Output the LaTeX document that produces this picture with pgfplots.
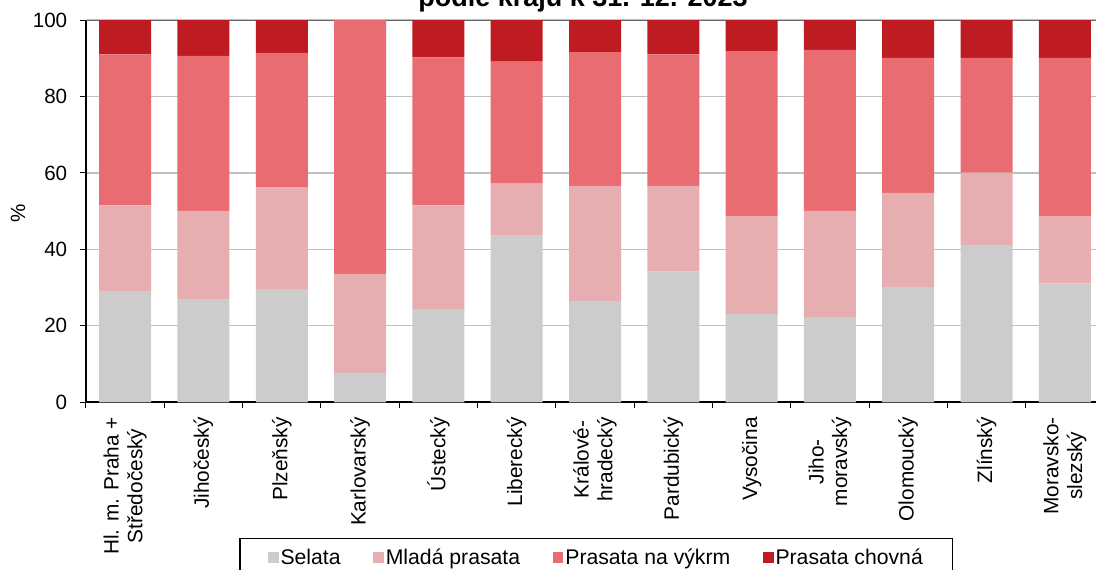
\documentclass[border=0pt]{standalone}
\usepackage{fontspec}
\setmainfont{Liberation Sans}
\usepackage{pgfplots}
\usepackage{pgfplotstable}
\pgfplotsset{compat=1.18}

\definecolor{selata}{HTML}{CCCCCC}
\definecolor{mlada}{HTML}{E6AEB1}
\definecolor{vykrm}{HTML}{E96C73}
\definecolor{chovna}{HTML}{BE1B22}
\definecolor{gridc}{HTML}{C0C0C0}

% shares in % by region, 31. 12. 2023
\pgfplotstableread{
x  selata mlada vykrm chovna
0  29.1   22.4  39.5  9.0
1  27.0   23.1  40.5  9.4
2  29.6   26.7  35.1  8.6
3  7.7    25.9  66.4  0.0
4  24.4   27.1  38.7  9.8
5  43.7   13.5  31.9  10.9
6  26.5   30.1  35.0  8.4
7  34.2   22.4  34.4  9.0
8  23.1   25.6  43.2  8.1
9  22.3   27.8  42.1  7.8
10 30.2   24.6  35.3  9.9
11 41.2   18.9  30.0  9.9
12 31.1   17.6  41.4  9.9
}\krajdata

\begin{document}
\begin{tikzpicture}
\begin{axis}[
    at={(43pt,83.35pt)}, anchor=south west,
    scale only axis,
    width=509pt, height=191.15pt,
    ybar stacked, bar width=26pt,
    xmin=-0.5, xmax=12.5,
    ymin=0, ymax=100,
    enlargelimits=false,
    axis x line*=bottom, axis y line*=left,
    axis line style={black, line width=1pt},
    tick align=outside,
    major tick length=3pt,
    tick style={black, line width=0.5pt},
    ytick={0,20,...,100},
    ymajorgrids=true,
    grid style={gridc, line width=0.6pt},
    xtick={-0.5,0.5,...,12.5},
    xticklabels={},
    extra x ticks={0,1,...,12},
    extra x tick labels={{Hl. m. Praha +\\Středočeský},Jihočeský,Plzeňský,Karlovarský,Ústecký,Liberecký,{Králové-\\hradecký},Pardubický,Vysočina,{Jiho-\\moravský},Olomoucký,Zlínský,{Moravsko-\\slezský}},
    extra x tick style={major tick length=0pt, grid=none},
    xticklabel style={font=\fontsize{10.4}{11.8}\selectfont, rotate=90, anchor=east, align=center, inner sep=0pt},
    xticklabel shift=7.3pt,
    yticklabel style={font=\fontsize{10.3}{11}\selectfont, anchor=east, inner sep=0pt},
    yticklabel shift=6.2pt,
    /pgf/number format/assume math mode=true,
    ylabel={\%},
    ylabel style={font=\fontsize{10.3}{12}\selectfont, at={(axis description cs:-0.0668,0.495)}, anchor=center},
    legend columns=4,
    legend cell align=left,
    legend style={
        at={(axis description cs:0.1506,-0.355)}, anchor=north west,
        draw=black, line width=0.6pt,
        inner xsep=14pt, inner ysep=4pt,
        font=\fontsize{10.6}{12}\selectfont,
        nodes={inner sep=1pt},
        /tikz/every even column/.append style={column sep=15.3pt},
    },
    legend image code/.code={\fill[#1] (0pt,-2.4pt) rectangle (5.3pt,2.9pt);},
]
\addplot[fill=selata, draw=none] table[x=x, y=selata] {\krajdata};
\addplot[fill=mlada, draw=none] table[x=x, y=mlada] {\krajdata};
\addplot[fill=vykrm, draw=none] table[x=x, y=vykrm] {\krajdata};
\addplot[fill=chovna, draw=none] table[x=x, y=chovna] {\krajdata};
\legend{Selata, Mladá prasata, Prasata na výkrm, Prasata chovná}
\draw[black!60, line width=0.7pt] (rel axis cs:0,1) -- (rel axis cs:1,1);
\end{axis}
\node[font=\bfseries\fontsize{13.5}{16}\selectfont, anchor=base] at (291.5pt,281.2pt) {podle krajů k 31. 12. 2023};
\pgfresetboundingbox
\useasboundingbox (0,0) rectangle (548pt,284.5pt);
\end{tikzpicture}
\end{document}
